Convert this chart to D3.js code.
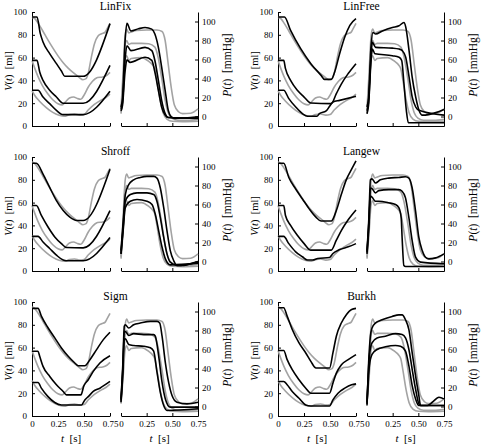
<!DOCTYPE html>
<html><head><meta charset="utf-8">
<script src="https://cdn.jsdelivr.net/npm/d3@7"></script>
<style>
html,body{margin:0;padding:0;background:#fff;}
svg{display:block;}
svg text{font-family:"Liberation Serif","Times New Roman",Times,serif !important;fill:#000;}
</style></head>
<body><svg id="chart" width="481" height="446"></svg>
<script>
// ---------- data ----------
const panelNames = ["LinFix","LinFree","Shroff","Langew","Sigm","Burkh"];
const timeTicks = [0,0.25,0.5,0.75];
const timeTickLabels = ["0","0.25","0.50","0.75"];
const volumeTicks = [0,20,40,60,80,100];
const pressureTicks = [0,20,40,60,80,100];

// measured (gray) curves, shared by all panels: [t, value]
const measuredV = [
  [[0,95.5],[0.03,94],[0.06,90],[0.1,84],[0.15,76],[0.2,68.5],[0.25,61.5],[0.3,55.5],[0.35,50.5],[0.4,46.5],[0.45,43],[0.49,40.6],[0.52,41.5],[0.54,46],[0.57,60],[0.6,72],[0.635,79],[0.67,81],[0.7,82],[0.72,85],[0.75,90]],
  [[0,57.5],[0.025,51],[0.055,44],[0.1,35.5],[0.15,28.5],[0.2,23],[0.25,19.5],[0.29,18.5],[0.32,21],[0.36,24.5],[0.4,25.5],[0.44,24],[0.47,23.5],[0.5,27],[0.54,34],[0.58,39],[0.63,42.5],[0.68,43],[0.72,44.5],[0.75,47]],
  [[0,31],[0.025,27],[0.07,22],[0.14,16],[0.2,12],[0.26,9.5],[0.31,8.5],[0.36,10],[0.41,10.5],[0.46,9.5],[0.5,10],[0.54,14],[0.6,19],[0.66,22.5],[0.71,25],[0.75,28]]
];
const measuredP = [
  [[0,8],[0.02,45],[0.04,85],[0.055,92],[0.075,88],[0.1,89],[0.15,90.5],[0.25,91],[0.35,91],[0.4,89.5],[0.43,80],[0.46,55],[0.49,30],[0.52,12],[0.56,5],[0.6,3],[0.68,3.5],[0.75,8]],
  [[0,5],[0.02,35],[0.04,75],[0.055,80],[0.075,76],[0.1,77],[0.2,77],[0.27,76.5],[0.33,73],[0.36,63],[0.4,38],[0.43,17],[0.46,4],[0.5,-2],[0.55,-4],[0.65,-4],[0.75,-3]],
  [[0,3],[0.02,30],[0.04,60],[0.055,64],[0.075,59],[0.1,61],[0.2,62],[0.27,58],[0.31,54],[0.33,50],[0.35,38],[0.38,18],[0.41,4],[0.45,-3],[0.5,-5],[0.6,-5.5],[0.75,-5]]
];

// model (black) curves per panel
const linFixV = [
  [[0,95.6],[0.048,95.6],[0.08,81],[0.106,73.7],[0.17,63.5],[0.235,54.7],[0.283,48.2],[0.315,43.6],[0.492,43.6],[0.75,89.8]],
  [[0,57.6],[0.048,57.6],[0.074,47.4],[0.106,40],[0.17,31.3],[0.235,25.4],[0.299,19.9],[0.492,19.9],[0.75,53.2]],
  [[0,31.3],[0.058,31.3],[0.106,25.4],[0.17,19.6],[0.235,13.7],[0.299,10],[0.492,10],[0.75,30.5]]
];
const linFixP = [
  [[0,10],[0.015,20],[0.04,80],[0.058,98],[0.097,90],[0.17,92.3],[0.234,93.7],[0.3,92],[0.33,86.8],[0.364,72.8],[0.396,52],[0.43,27.5],[0.46,6.6],[0.49,-0.3],[0.526,-2],[0.75,-0.3]],
  [[0,8],[0.015,15],[0.04,60],[0.058,74.5],[0.097,69.3],[0.234,72.8],[0.3,69.3],[0.33,59],[0.364,38],[0.396,17],[0.43,3],[0.46,-1],[0.75,-1.5]],
  [[0,6],[0.015,12],[0.04,48],[0.058,59.6],[0.088,57],[0.234,62.4],[0.3,59],[0.33,46.7],[0.364,27.5],[0.396,10],[0.43,1.4],[0.46,-1],[0.75,-2]]
];
const linFreeV = [
  [[0,95.6],[0.062,95.6],[0.121,83.9],[0.218,67.8],[0.316,54.7],[0.414,44.4],[0.447,40.9],[0.512,40.9],[0.545,47.4],[0.593,63.5],[0.642,78],[0.691,88.3],[0.75,94.2]],
  [[0,57.6],[0.055,57.6],[0.072,50.3],[0.121,40],[0.186,31.3],[0.251,25.4],[0.316,20.2],[0.512,19.6],[0.561,28.4],[0.61,37],[0.675,46],[0.75,54.7]],
  [[0,31.3],[0.055,31.3],[0.104,24],[0.17,16.7],[0.235,10.8],[0.284,8.5],[0.375,8.5],[0.398,10.8],[0.463,13.2],[0.496,17.3],[0.528,21],[0.593,22.5],[0.75,26]]
];
const linFreeP = [
  [[0,10],[0.015,20],[0.04,75],[0.058,88.5],[0.084,86.8],[0.15,90],[0.247,93.7],[0.312,95.5],[0.36,99],[0.377,94.4],[0.41,69],[0.44,41.5],[0.474,20.6],[0.506,6.6],[0.54,1.4],[0.6,2],[0.75,7.3]],
  [[0,6],[0.015,15],[0.04,65],[0.052,78],[0.084,72.8],[0.247,72],[0.312,71],[0.344,69.3],[0.377,62.4],[0.41,41.5],[0.44,20.6],[0.474,10],[0.506,6.6],[0.75,1.4]],
  [[0,3],[0.015,12],[0.04,60],[0.052,71],[0.078,66],[0.247,64],[0.312,62.4],[0.338,59],[0.36,34.5],[0.383,6.6],[0.403,-6.6],[0.75,-6.6]]
];
const shroffV = [
  [[0,94.5],[0.042,94.5],[0.106,85],[0.17,73.3],[0.235,61.7],[0.3,53],[0.364,47.2],[0.428,44.3],[0.492,44.3],[0.75,89.3]],
  [[0,57.4],[0.042,57.4],[0.09,48.7],[0.154,38.6],[0.219,29.9],[0.283,24],[0.331,20.6],[0.492,20.3],[0.75,53]],
  [[0,30.4],[0.058,30.4],[0.106,25.5],[0.17,19.7],[0.235,13.9],[0.3,9.6],[0.331,9],[0.492,9],[0.75,29.3]]
];
const shroffP = [
  [[0,11.5],[0.02,40],[0.042,70.5],[0.075,81],[0.123,86],[0.188,88.5],[0.253,89.6],[0.318,89.6],[0.35,87.8],[0.383,77.4],[0.416,56.6],[0.448,32.3],[0.48,11.5],[0.513,1],[0.545,-4.2],[0.61,-4.2],[0.675,-2.4],[0.75,0]],
  [[0,8],[0.02,35],[0.042,63.5],[0.091,70.5],[0.156,72.2],[0.253,72.2],[0.318,70.5],[0.35,63.5],[0.383,46.2],[0.416,25.3],[0.448,8],[0.48,-0.7],[0.545,-4.2],[0.75,-0.7]],
  [[0,8],[0.02,32],[0.042,56.6],[0.091,63.5],[0.156,65.3],[0.253,63.5],[0.302,60],[0.334,49.7],[0.367,32.3],[0.4,15],[0.432,2.8],[0.48,-3.5],[0.75,-1.7]]
];
const langewV = [
  [[0,94.5],[0.055,94.5],[0.104,82],[0.17,71.9],[0.235,63.2],[0.3,54.5],[0.365,47.2],[0.414,43.8],[0.512,43.8],[0.561,53],[0.61,67.5],[0.659,80.6],[0.708,89.3],[0.75,96.5]],
  [[0,57.4],[0.055,57.4],[0.072,48.7],[0.121,40],[0.186,31.3],[0.251,24],[0.316,18.3],[0.512,18.3],[0.561,27],[0.61,35.7],[0.675,45],[0.75,53.6]],
  [[0,30.4],[0.055,30.4],[0.104,24],[0.17,16.8],[0.235,12.5],[0.284,9.6],[0.333,9.6],[0.382,11],[0.496,11.9],[0.528,15.4],[0.593,18.8],[0.675,21.2],[0.75,24]]
];
const langewP = [
  [[0,11.5],[0.02,50],[0.033,86],[0.049,87],[0.082,82.6],[0.13,86],[0.212,87.8],[0.31,88.5],[0.375,89.2],[0.408,87.8],[0.44,77.4],[0.473,53],[0.505,25.3],[0.538,11.5],[0.57,4.5],[0.603,2.8],[0.668,3.8],[0.75,8]],
  [[0,9.7],[0.02,45],[0.033,77.4],[0.049,76.7],[0.082,72.2],[0.114,74.6],[0.212,75.7],[0.31,75.7],[0.342,74],[0.375,67],[0.408,46.2],[0.44,21.9],[0.473,4.5],[0.522,-0.7],[0.75,-2.4]],
  [[0,8],[0.02,40],[0.033,68.8],[0.049,67.7],[0.082,63.5],[0.114,63.5],[0.212,61.8],[0.277,60],[0.31,56.6],[0.333,46],[0.342,25.3],[0.359,-4.2],[0.375,-5.2],[0.75,-5.2]]
];
const sigmV = [
  [[0,94.4],[0.058,94.4],[0.09,87.6],[0.154,77.4],[0.219,68.5],[0.283,59.7],[0.348,52.4],[0.412,46.5],[0.444,44.1],[0.508,44.1],[0.557,49.4],[0.621,58.2],[0.686,67],[0.75,73.5]],
  [[0,56.8],[0.058,56.8],[0.074,52.4],[0.106,43.5],[0.171,34.7],[0.235,27.4],[0.3,21.5],[0.331,18.5],[0.47,18.5],[0.499,26.5],[0.541,31.8],[0.589,39.1],[0.653,46.5],[0.75,52.9]],
  [[0,29.4],[0.058,29.4],[0.09,24.4],[0.154,17],[0.219,11.8],[0.283,9.7],[0.476,9.7],[0.508,14.1],[0.541,17],[0.589,21.5],[0.653,24.4],[0.75,30.3]]
];
const sigmP = [
  [[0,8],[0.018,45],[0.032,84.4],[0.042,86.1],[0.075,82.6],[0.123,86.1],[0.188,87.8],[0.286,89.6],[0.351,89.6],[0.377,87.8],[0.4,74],[0.432,46.2],[0.464,25.3],[0.497,11.5],[0.545,4.5],[0.643,2.8],[0.75,4.5]],
  [[0,6.3],[0.018,40],[0.032,79.2],[0.052,78.1],[0.075,74.7],[0.123,76.7],[0.221,75.7],[0.318,75.7],[0.334,74],[0.367,53.1],[0.4,25.3],[0.432,8],[0.48,-0.7],[0.75,-0.7]],
  [[0,4.5],[0.018,35],[0.032,70.5],[0.042,71.2],[0.075,65.3],[0.123,64.2],[0.221,63.5],[0.286,61.8],[0.318,58.3],[0.351,35.8],[0.383,14.9],[0.416,1],[0.448,-4.2],[0.75,-2.4]]
];
const burkhV = [
  [[0,95],[0.055,95],[0.088,87.6],[0.137,75.9],[0.202,64.1],[0.267,55.3],[0.316,47.9],[0.365,42.1],[0.496,42.1],[0.528,55.3],[0.561,70],[0.61,81.8],[0.659,89.1],[0.708,93.5],[0.75,94.4]],
  [[0,57.4],[0.055,57.4],[0.088,49.4],[0.137,40.6],[0.202,31.8],[0.267,24.4],[0.316,20],[0.496,20],[0.528,28.8],[0.561,37.6],[0.61,45],[0.675,49.4],[0.75,53.8]],
  [[0,30.3],[0.055,30.3],[0.088,27.4],[0.137,21.5],[0.202,15.6],[0.267,9.7],[0.316,8.8],[0.496,8.8],[0.528,14.1],[0.577,20],[0.642,24.4],[0.708,27.4],[0.75,28.2]]
];
const burkhP = [
  [[0,1],[0.016,46.2],[0.033,74],[0.049,82.6],[0.082,87.8],[0.147,91.3],[0.245,94.8],[0.31,96.5],[0.342,96.5],[0.375,91.3],[0.408,80.9],[0.44,56.6],[0.473,32.3],[0.505,11.5],[0.522,1],[0.587,1],[0.636,4.5],[0.701,9.7],[0.75,8]],
  [[0,4.5],[0.023,53.1],[0.049,67],[0.098,72.2],[0.179,74],[0.277,76.7],[0.342,75.7],[0.375,72.2],[0.408,60],[0.44,39.2],[0.473,18.4],[0.505,2.8],[0.522,1],[0.75,1]],
  [[0,2.8],[0.023,42.7],[0.049,54.9],[0.098,60],[0.179,62.8],[0.277,64.2],[0.326,63.5],[0.375,58.3],[0.408,42.7],[0.44,21.9],[0.473,8],[0.505,1],[0.75,1]]
];

const modelV = [linFixV, linFreeV, shroffV, langewV, sigmV, burkhV];
const modelP = [linFixP, linFreeP, shroffP, langewP, sigmP, burkhP];

// ---------- drawing ----------
const svg = d3.select("#chart");
const colOffset = [0, 246];
const rowOffset = [0, 145, 290];
const FONT = '"Liberation Serif","Times New Roman",Times,serif';

const xV = d3.scaleLinear().domain([0,0.75]).range([32,110]);
const xP = d3.scaleLinear().domain([0,0.75]).range([121,198]);
const yV = d3.scaleLinear().domain([0,100]).range([126,12]);
const yP = d3.scaleLinear().domain([-10,110]).range([126,12]);

const lineV = d3.line().x(d=>xV(d[0])).y(d=>yV(d[1])).curve(d3.curveMonotoneX);
const lineP = d3.line().x(d=>xP(d[0])).y(d=>yP(d[1])).curve(d3.curveMonotoneX);

function styleAxis(g){
  g.attr("font-family",FONT).attr("font-size",9);
  g.selectAll("path.domain").attr("stroke","#000").attr("stroke-width",1);
  g.selectAll(".tick line").attr("stroke","#000").attr("stroke-width",1);
  g.selectAll("text").attr("font-family",FONT).attr("font-size",9).attr("fill","#000");
}

panelNames.forEach((name,i)=>{
  const col = i%2, row = Math.floor(i/2);
  const g = svg.append("g").attr("transform",`translate(${colOffset[col]},${rowOffset[row]})`)
    .attr("font-family",FONT);
  const lastRow = row===2;

  const axV = g.append("g").attr("transform",`translate(${xV.range()[0]},0)`)
    .call(d3.axisLeft(yV).tickValues(volumeTicks).tickSize(-3).tickSizeOuter(0).tickPadding(5));
  styleAxis(axV);
  const axP = g.append("g").attr("transform",`translate(${xP.range()[1]},0)`)
    .call(d3.axisRight(yP).tickValues(pressureTicks).tickSize(-3).tickSizeOuter(0).tickPadding(4));
  styleAxis(axP);
  const fmt = (d,k)=> lastRow ? timeTickLabels[k] : "";
  const axXV = g.append("g").attr("transform",`translate(0,${yV.range()[0]})`)
    .call(d3.axisBottom(xV).tickValues(timeTicks).tickFormat(fmt).tickSize(-3).tickSizeOuter(0).tickPadding(5));
  styleAxis(axXV);
  const axXP = g.append("g").attr("transform",`translate(0,${yP.range()[0]})`)
    .call(d3.axisBottom(xP).tickValues(timeTicks).tickFormat(fmt).tickSize(-3).tickSizeOuter(0).tickPadding(5));
  styleAxis(axXP);

  measuredV.forEach(c=>g.append("path").attr("d",lineV(c)).attr("fill","none").attr("stroke","#a3a3a3").attr("stroke-width",1.6));
  measuredP.forEach(c=>g.append("path").attr("d",lineP(c)).attr("fill","none").attr("stroke","#a3a3a3").attr("stroke-width",1.6));
  modelV[i].forEach(c=>g.append("path").attr("d",lineV(c)).attr("fill","none").attr("stroke","#000").attr("stroke-width",1.6));
  modelP[i].forEach(c=>g.append("path").attr("d",lineP(c)).attr("fill","none").attr("stroke","#000").attr("stroke-width",1.6));

  g.append("text").attr("x",115.5).attr("y",10).attr("text-anchor","middle")
    .attr("font-size",11.5).text(name);

  const vl = g.append("text").attr("transform","translate(11.5,71) rotate(-90)")
    .attr("text-anchor","middle").attr("font-size",10.5).attr("xml:space","preserve");
  vl.append("tspan").attr("font-style","italic").text("V");
  vl.append("tspan").text("(");
  vl.append("tspan").attr("font-style","italic").text("t");
  vl.append("tspan").text(")  [ml]");

  const pl = g.append("text").attr("transform","translate(230.5,65) rotate(-90)")
    .attr("text-anchor","middle").attr("font-size",11.5).attr("xml:space","preserve");
  pl.append("tspan").attr("font-style","italic").text("P");
  pl.append("tspan").text("(");
  pl.append("tspan").attr("font-style","italic").text("t");
  pl.append("tspan").text(")  [mmHg]");

  if(lastRow){
    [71,159.5].forEach(cx=>{
      const tl = g.append("text").attr("x",cx).attr("y",152).attr("text-anchor","middle")
        .attr("font-size",11).attr("xml:space","preserve");
      tl.append("tspan").attr("font-style","italic").text("t");
      tl.append("tspan").text("  [s]");
    });
  }
});
</script></body></html>
